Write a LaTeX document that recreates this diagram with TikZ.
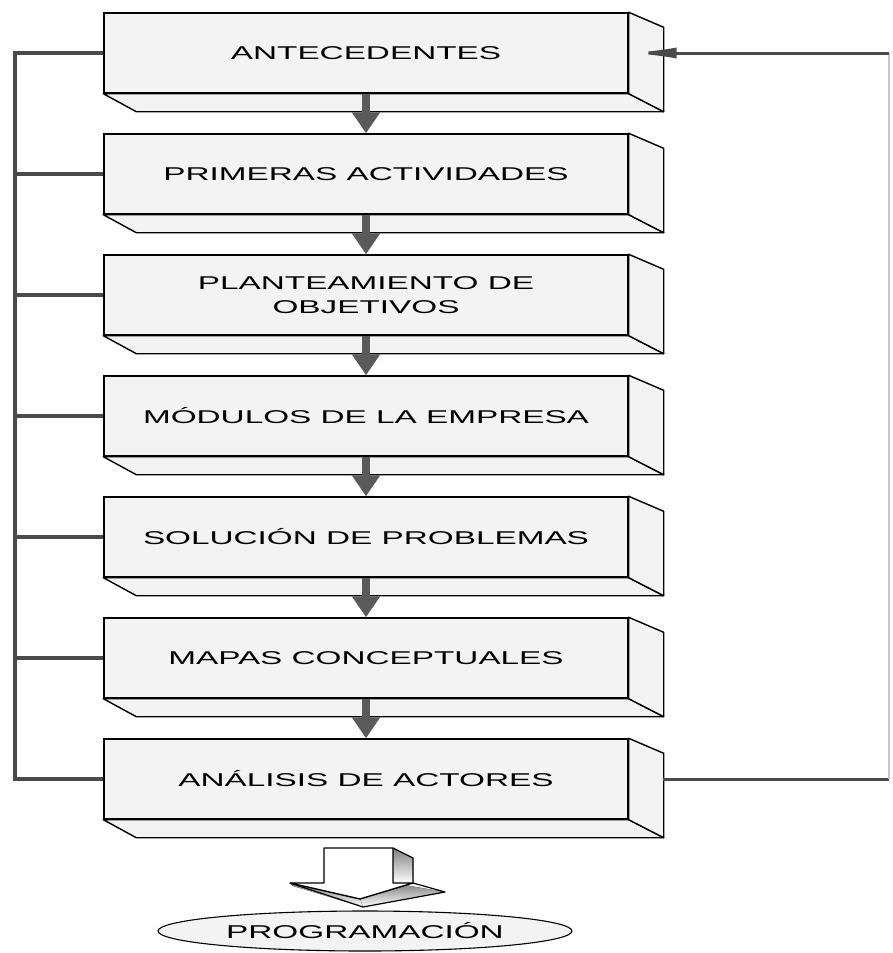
\documentclass[tikz,border=0pt]{standalone}
\usepackage{fontspec}
\newfontfamily\lab{Liberation Sans}[FakeStretch=1.8]
\usetikzlibrary{arrows.meta,shapes.geometric}
\definecolor{boxfill}{HTML}{F3F3F3}
\definecolor{linegray}{HTML}{4A4A4A}
\definecolor{shade}{HTML}{5A5A5A}
\tikzset{
  stage/.style={draw=black, line width=1.4pt, fill=boxfill, inner sep=0pt,
    minimum width=524pt, minimum height=80pt, align=center,
    font=\lab\fontsize{18.5}{24}\selectfont},
  face/.style={draw=black, line width=1.4pt, fill=boxfill, line join=round},
  flow/.style={draw=shade, line width=8pt, -{Triangle[width=27pt,length=21pt]}},
  feedback/.style={draw=linegray, line width=4.5pt},
  returnline/.style={draw=linegray, line width=3pt},
  faintline/.style={draw=gray!45, line width=1.5pt},
}
\begin{document}
\begin{tikzpicture}[x=1pt,y=-1pt]
\useasboundingbox (0,0) rectangle (893,953);

% stage boxes (front faces)
\node[stage] (b1) at (366,53)  {ANTECEDENTES};
\node[stage] (b2) at (366,174) {PRIMERAS ACTIVIDADES};
\node[stage] (b3) at (366,295) {PLANTEAMIENTO DE\\OBJETIVOS};
\node[stage] (b4) at (366,416) {MÓDULOS DE LA EMPRESA};
\node[stage] (b5) at (366,537) {SOLUCIÓN DE PROBLEMAS};
\node[stage] (b6) at (366,658) {MAPAS CONCEPTUALES};
\node[stage] (b7) at (366,779) {ANÁLISIS DE ACTORES};

% bottom and side faces of each box
\foreach \n in {b1,b2,b3,b4,b5,b6,b7}{
  \draw[face] (\n.south west) -- (\n.south east) -- ++(35,18)
     -- ([shift={(33,18)}]\n.south west) -- cycle;
  \draw[face] (\n.north east) -- ++(35,15) -- ([shift={(35,18)}]\n.south east)
     -- (\n.south east) -- cycle;
}

% flow between stages
\draw[flow] (b1.south) -- (b2.north);
\draw[flow] (b2.south) -- (b3.north);
\draw[flow] (b3.south) -- (b4.north);
\draw[flow] (b4.south) -- (b5.north);
\draw[flow] (b5.south) -- (b6.north);
\draw[flow] (b6.south) -- (b7.north);

% left feedback bus
\coordinate (ltop) at (15,53);
\coordinate (lbot) at (15,779);
\draw[feedback, line cap=rect] (ltop) -- (lbot);
\foreach \n in {b1,b2,b3,b4,b5,b6,b7}{
  \draw[feedback] (\n.west) -- (\n.west -| ltop);
}

% right return loop
\coordinate (s7) at (663,779);
\coordinate (rbot) at (889,779);
\coordinate (rtop) at (889,53);
\draw[returnline] (s7) -- (rbot);
\draw[faintline] (rbot) -- (rtop);
\draw[returnline, -{Latex[length=48pt,width=11pt]}] (rtop) -- (b1.east);

% block arrow towards the result
\fill[shade] (393,848) -- (413,858) -- (413,883) -- (393,883) -- cycle;
\fill[shade] (393,883) -- (445,892) -- (363,907) -- (360,899) -- cycle;
\fill[shade] (290,883) -- (360,899) -- (363,907) -- (293,886) -- cycle;
\draw[black, line width=1.2pt, line join=round]
  (393,848) -- (413,858) -- (413,883) -- (445,892) -- (363,907) -- (290,883);
\draw[black, line width=1.4pt, fill=white, line join=round]
  (324,848) -- (393,848) -- (393,883) -- (413,883) -- (360,899)
  -- (290,883) -- (324,883) -- cycle;

% result
\node[ellipse, draw=black, line width=1.1pt, fill=boxfill, inner sep=0pt,
  minimum width=414pt, minimum height=40pt,
  font=\lab\fontsize{18.5}{24}\selectfont] (p) at (365,931) {PROGRAMACIÓN};
\end{tikzpicture}
\end{document}
